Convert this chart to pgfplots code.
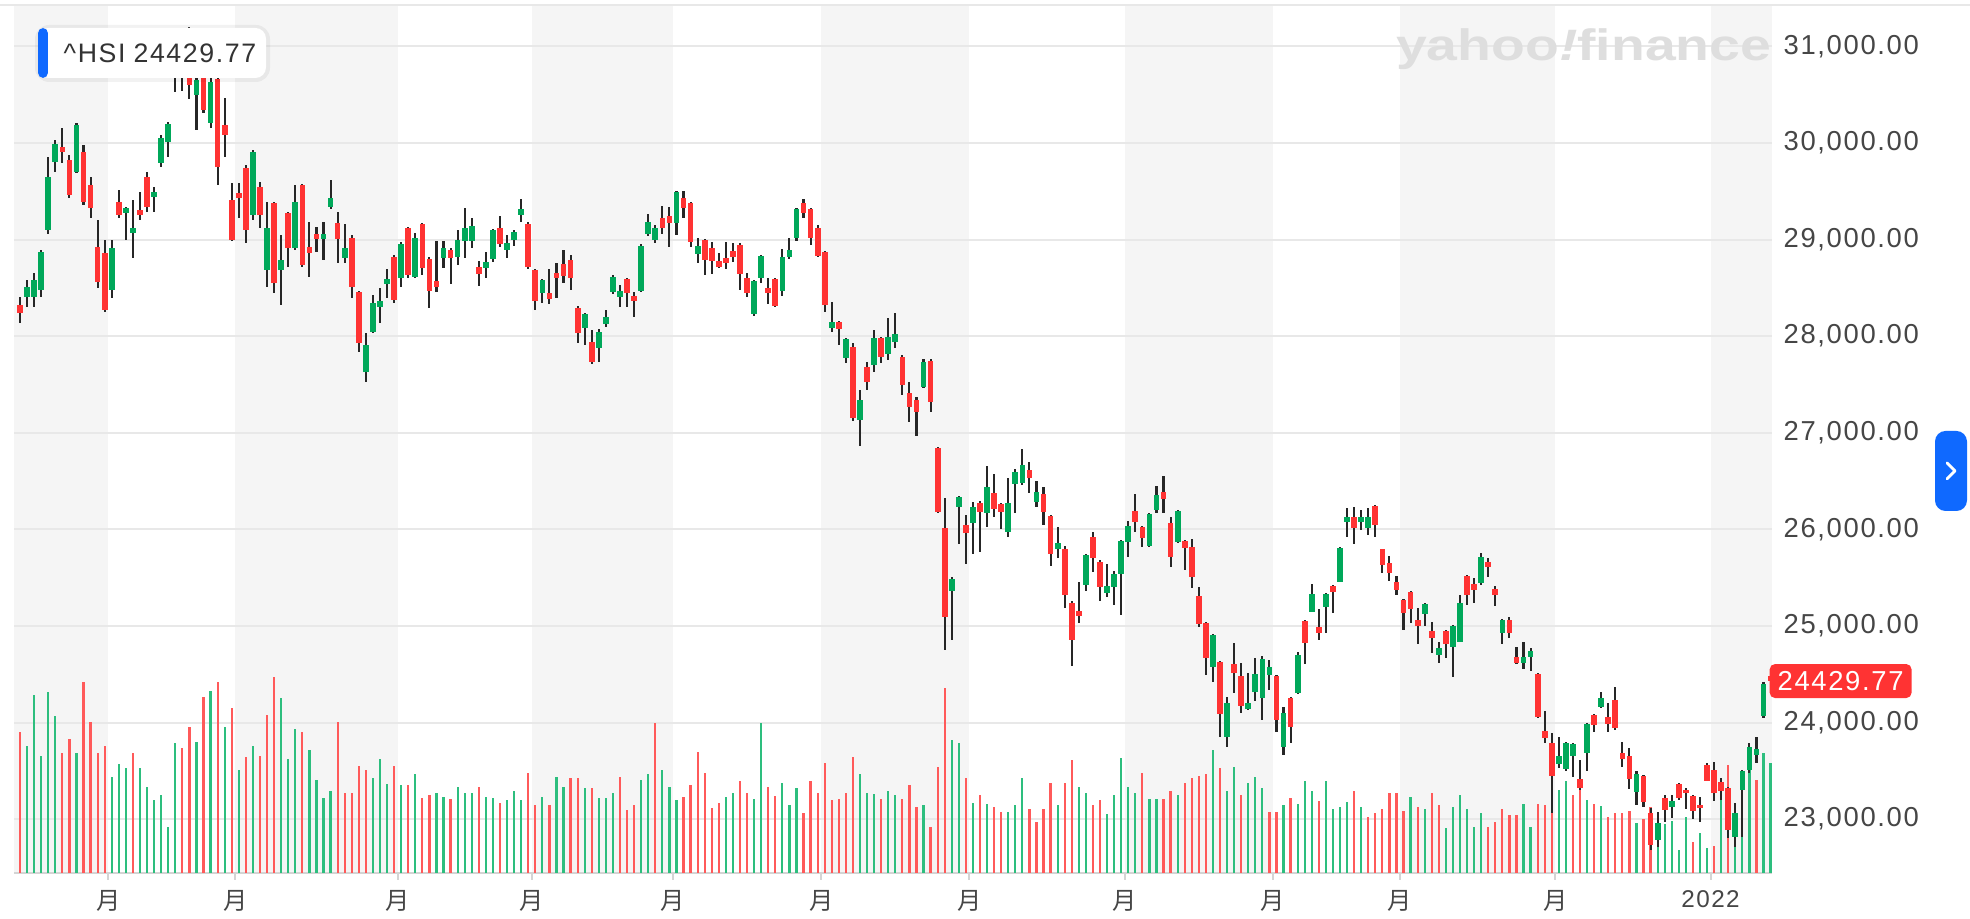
\documentclass[border=0pt]{standalone}
\usepackage{fontspec}
\usepackage{graphicx}
\usepackage{pgfplots}
\usepackage{pgfplotstable}
\pgfplotsset{compat=1.18}
\setmainfont{Liberation Sans}
\newfontfamily\lab{Liberation Sans}[LetterSpace=6]
\newfontfamily\cjk{Noto Sans CJK SC}

\definecolor{cgreen}{HTML}{00A85A}
\definecolor{cred}{HTML}{FF3333}
\definecolor{vgreen}{HTML}{2DBE7E}
\definecolor{vred}{HTML}{FF5A5A}
\definecolor{wick}{HTML}{262626}
\definecolor{band}{HTML}{F5F5F5}
\definecolor{gridc}{HTML}{E8E8E8}
\definecolor{axisc}{HTML}{D4D4D4}
\definecolor{labc}{HTML}{464646}
\definecolor{tipc}{HTML}{333333}
\definecolor{yblue}{HTML}{0F69FF}
\definecolor{logoc}{HTML}{DEDEDE}

\pgfplotsset{
  hsibase/.style={scale only axis, width=17.58cm, height=8.67cm,
    at={(0.14cm,0.46cm)}, anchor=south west, xmin=-0.85, xmax=248.2},
  up/.style={restrict expr to domain={\thisrow{#1}}{0.5:1.5}},
  down/.style={restrict expr to domain={\thisrow{#1}}{-0.5:0.5}},
}

% daily ^HSI, 13 Jan 2021 - 13 Jan 2022 (i = trading day)
% V = volume bar height, D = 1 if close >= open, U = 1 if close >= previous close
\pgfplotstableread{
i O H L C V D U
0 28323 28409 28134 28237 141 0 0
1 28409 28582 28306 28513 127 1 1
2 28409 28650 28306 28582 178 1 1
3 28478 28892 28409 28875 117 1 1
4 29099 29858 29060 29651 181 1 1
5 29807 30031 29703 29990 157 1 1
6 29962 30152 29790 29910 120 0 0
7 29824 29876 29427 29461 134 0 0
8 29703 30210 29686 30186 120 1 1
9 29910 29979 29358 29393 191 0 0
10 29565 29651 29220 29323 151 0 0
11 28927 29203 28495 28564 120 0 0
12 28858 28996 28250 28271 127 0 0
13 28478 28996 28392 28909 96 1 1
14 29393 29513 29220 29255 109 0 1
15 29272 29340 28996 29323 105 1 1
16 29065 29410 28806 29117 120 1 0
17 29306 29496 29203 29254 105 0 1
18 29651 29703 29289 29341 86 0 1
19 29444 29548 29289 29496 73 1 1
20 29790 30083 29755 30048 78 1 1
21 30014 30220 29858 30196 46 1 1
22 30800 31183 30530 31085 130 1 1
23 31050 31120 30540 30700 125 0 0
24 30900 31200 30460 30595 146 0 0
25 30497 30800 30135 30650 131 1 1
26 30750 30800 30307 30342 176 0 0
27 30204 30700 30152 30632 182 1 1
28 30660 30700 29565 29755 191 0 0
29 30186 30462 29858 30083 146 0 1
30 29410 29583 28980 28996 165 0 0
31 29479 29583 29220 29427 103 0 1
32 29738 29772 28961 29099 116 0 0
33 29255 29930 29203 29910 127 1 1
34 29548 29600 29117 29254 117 0 0
35 28685 29393 28513 29117 158 1 0
36 29375 29390 28444 28547 196 0 0
37 28685 29048 28323 28789 175 1 1
38 29272 29290 28720 28910 114 0 1
39 28910 29565 28890 29392 144 1 1
40 29565 29580 28720 28737 141 0 0
41 28927 29185 28616 28858 123 0 1
42 29054 29134 28875 29006 93 0 1
43 29006 29185 28789 29054 75 1 1
44 29341 29617 29320 29427 82 1 1
45 29168 29289 28754 29006 151 0 0
46 28813 29158 28754 28909 80 1 0
47 29013 29047 28392 28513 80 0 0
48 28454 28470 27840 27926 107 0 0
49 27633 28029 27522 27909 103 1 0
50 28047 28426 28030 28340 95 1 1
51 28305 28502 28133 28364 114 1 1
52 28537 28695 28392 28592 89 1 1
53 28823 28840 28340 28374 107 0 0
54 28599 28970 28513 28951 88 1 1
55 29116 29130 28599 28633 88 0 0
56 28616 29065 28599 29013 99 1 1
57 29158 29170 28633 28702 75 0 0
58 28799 28815 28288 28468 78 0 0
59 28571 28985 28461 28513 80 0 1
60 28806 28985 28702 28909 76 1 1
61 28889 28909 28540 28813 74 0 0
62 28823 29099 28737 28996 86 1 1
63 28985 29330 28813 29116 80 1 1
64 28985 29227 28909 29144 80 1 1
65 28713 28778 28523 28640 86 0 0
66 28702 28868 28599 28764 76 1 1
67 28799 29110 28771 29099 75 1 1
68 29123 29247 28927 28951 70 0 0
69 28892 29047 28813 28960 73 1 1
70 28996 29100 28930 29082 82 1 1
71 29254 29417 29178 29317 73 1 1
72 29165 29180 28700 28720 100 0 0
73 28685 28700 28271 28364 68 0 0
74 28443 28590 28340 28581 76 1 1
75 28443 28695 28330 28385 68 0 0
76 28657 28761 28392 28599 96 0 1
77 28744 28892 28547 28626 86 0 1
78 28789 28840 28478 28599 95 0 0
79 28295 28310 27926 28029 95 0 0
80 28088 28240 27909 28226 85 1 1
81 27936 28064 27710 27729 85 0 0
82 27881 28074 27736 28047 75 1 1
83 28123 28271 28099 28202 75 1 1
84 28454 28634 28440 28617 80 1 1
85 28410 28530 28306 28468 96 1 0
86 28592 28600 28306 28450 63 0 0
87 28420 28461 28202 28364 68 0 0
88 28468 28950 28460 28937 93 1 1
89 29055 29262 29041 29186 99 1 1
90 28996 29151 28962 29117 150 1 0
91 29227 29351 29055 29124 103 0 1
92 29248 29341 28927 29169 86 0 1
93 29169 29500 29048 29490 73 1 1
94 29434 29503 29220 29324 76 0 0
95 29376 29390 28927 28979 88 0 0
96 28848 29020 28755 28937 121 1 0
97 28996 29010 28634 28789 100 0 0
98 28910 28979 28641 28780 65 0 0
99 28779 28858 28703 28720 70 0 0
100 28806 28979 28696 28755 76 0 1
101 28882 28962 28770 28824 80 0 1
102 28944 28960 28479 28641 92 0 0
103 28606 28651 28410 28444 80 0 0
104 28227 28580 28210 28572 74 1 1
105 28599 28841 28548 28834 150 1 1
106 28503 28606 28330 28444 86 0 0
107 28592 28600 28306 28316 77 0 0
108 28468 28903 28420 28824 90 1 1
109 28824 29013 28799 28893 68 1 1
110 29013 29325 28986 29317 85 1 1
111 29376 29421 29220 29272 60 0 0
112 29317 29330 28944 29013 92 0 0
113 29117 29151 28820 28834 80 0 0
114 28868 28880 28247 28323 110 0 0
115 28089 28358 28047 28151 73 1 0
116 28151 28160 27909 28075 74 0 0
117 27771 27980 27719 27971 80 1 0
118 27892 27926 27122 27157 116 0 0
119 27133 27443 26867 27340 99 1 1
120 27685 27737 27443 27530 80 0 1
121 27702 28064 27633 27978 79 1 1
122 27978 27990 27719 27788 74 0 0
123 27813 28185 27754 27995 82 1 1
124 27944 28237 27875 28020 78 1 1
125 27788 27800 27391 27495 74 0 0
126 27408 27529 27115 27264 88 0 0
127 27339 27374 26967 27219 66 0 0
128 27471 27760 27460 27736 68 1 1
129 27747 27760 27219 27322 46 0 0
130 26839 26856 26170 26183 106 0 0
131 26011 26321 24751 25096 185 0 0
132 25366 25511 24855 25483 133 1 1
133 26228 26345 25849 26332 130 1 1
134 26045 26149 25642 25959 95 0 0
135 26063 26287 25745 26235 70 1 1
136 26277 26290 25769 26183 78 0 0
137 26166 26656 26028 26435 69 1 1
138 26380 26573 26132 26208 66 0 0
139 26263 26275 25999 26183 61 0 0
140 25976 26528 25918 26277 61 1 1
141 26470 26622 26166 26597 68 1 1
142 26477 26829 26460 26666 95 1 1
143 26615 26701 26380 26528 64 0 0
144 26287 26504 26228 26390 51 1 0
145 26366 26442 26046 26183 64 0 0
146 26139 26150 25621 25745 90 0 0
147 25794 26028 25700 25856 68 1 1
148 25794 25828 25183 25321 90 0 0
149 25241 25255 24586 24855 113 0 0
150 25159 25459 25028 25104 86 0 1
151 25424 25750 25366 25735 80 1 1
152 25925 25976 25562 25700 68 0 0
153 25666 25680 25262 25400 73 0 0
154 25345 25642 25303 25414 59 1 1
155 25400 25573 25217 25538 78 1 1
156 25538 25895 25114 25883 115 1 1
157 25873 26090 25711 26035 86 1 1
158 26194 26366 25976 26080 80 0 1
159 26028 26040 25814 25907 100 0 0
160 25828 26173 25815 26159 74 1 1
161 26201 26449 26166 26356 74 1 1
162 26390 26553 26166 26311 74 0 0
163 26070 26132 25614 25718 82 0 0
164 25873 26200 25856 26194 78 1 1
165 25883 25895 25579 25804 90 0 0
166 25821 25897 25390 25510 95 0 0
167 25310 25407 24993 25020 97 0 0
168 25034 25045 24492 24665 99 0 0
169 24579 24920 24423 24906 123 1 1
170 24630 24640 23854 24089 105 0 0
171 23854 24261 23750 24206 82 1 1
172 24606 24820 24309 24510 106 0 1
173 24482 24613 24095 24171 78 0 0
174 24137 24510 24125 24206 90 1 1
175 24320 24665 24227 24503 96 1 1
176 24251 24689 24027 24655 85 1 1
177 24492 24648 24337 24572 61 1 0
178 24482 24495 23906 24027 61 0 0
179 23750 24165 23664 24103 68 1 1
180 24251 24260 23792 23958 75 0 0
181 24310 24734 24300 24700 69 1 1
182 25055 25065 24606 24827 92 0 1
183 25148 25434 25140 25331 82 1 1
184 24993 25172 24855 24931 72 0 0
185 25193 25340 24924 25331 92 1 1
186 25414 25425 25131 25355 64 0 1
187 25459 25815 25450 25804 66 1 1
188 26080 26218 25925 26131 71 1 1
189 26131 26235 25849 26011 82 0 0
190 26080 26200 25993 26131 66 1 1
191 26011 26218 25942 26124 56 1 0
192 26242 26250 25918 26045 60 0 0
193 25793 25800 25552 25631 64 0 0
194 25648 25724 25469 25545 80 0 0
195 25459 25517 25320 25372 80 0 0
196 25269 25280 24958 25138 62 0 0
197 25355 25365 25027 25172 76 0 1
198 25062 25183 24813 25000 66 0 0
199 25124 25235 24999 25227 64 1 1
200 24951 25045 24724 24872 80 0 0
201 24700 24837 24620 24769 68 1 0
202 24951 24960 24665 24813 45 0 1
203 24786 25010 24468 25000 66 1 1
204 24838 25320 24830 25241 78 1 1
205 25517 25528 25217 25320 64 0 1
206 25434 25493 25234 25372 46 0 1
207 25441 25760 25420 25713 60 1 1
208 25666 25700 25510 25614 46 0 0
209 25379 25414 25207 25321 51 0 0
210 24931 25070 24813 25062 64 1 0
211 25062 25089 24872 24931 58 0 0
212 24675 24779 24606 24620 58 0 0
213 24620 24838 24551 24682 69 1 1
214 24682 24769 24537 24744 46 1 1
215 24503 24510 24050 24061 69 0 0
216 23916 24123 23785 23837 68 0 0
217 23792 23889 23060 23447 85 0 0
218 23571 23854 23526 23654 83 1 1
219 23516 23800 23502 23792 92 1 1
220 23654 23790 23440 23778 78 1 0
221 23412 23613 23300 23319 86 0 0
222 23688 23995 23502 23985 73 1 1
223 24078 24085 23906 23975 69 0 0
224 24158 24320 24150 24251 67 1 1
225 24061 24206 23906 23985 56 0 0
226 24234 24372 23923 23940 60 0 0
227 23689 23802 23544 23620 60 0 0
228 23654 23733 23309 23412 62 0 0
229 23285 23502 23147 23468 50 1 1
230 23447 23455 23130 23181 54 0 0
231 23067 23112 22681 22733 66 0 0
232 22785 23078 22715 22964 44 1 1
233 23216 23250 22974 23095 49 0 1
234 23130 23250 23009 23191 52 1 1
235 23364 23378 23199 23223 23 0 1
236 23300 23320 23102 23280 56 0 1
237 23240 23250 22998 23088 31 0 0
238 23150 23226 22974 23112 40 0 1
239 23561 23580 23390 23399 25 0 1
240 23509 23596 23192 23268 27 0 0
241 23388 23423 23199 23289 80 0 1
242 23319 23330 22802 22888 108 0 0
243 22819 23164 22709 23060 70 1 1
244 23302 23510 22819 23502 103 1 1
245 23509 23785 23475 23744 103 1 1
246 23664 23847 23585 23723 93 1 0
247 24068 24420 24050 24399 120 1 1
248 24480 24530 24330 24430 110 0 1
}\hsi

\begin{document}
\begin{tikzpicture}
\path[use as bounding box, fill=white] (0,0) rectangle (19.70cm,9.19cm);

% month bands, grid and scales
\begin{axis}[hsibase, ymin=22443, ymax=31418, axis on top,
  axis x line*=bottom, axis y line*=right,
  y axis line style={draw=none},
  x axis line style={draw=axisc, line width=0.6pt},
  tick align=outside, major tick length=0.07cm,
  xtick={12.5,30.5,53.5,72.5,92.5,113.5,134.5,156.5,177.5,195.5,217.5,239.5},
  xticklabels={{\cjk 月},{\cjk 月},{\cjk 月},{\cjk 月},{\cjk 月},{\cjk 月},
    {\cjk 月},{\cjk 月},{\cjk 月},{\cjk 月},{\cjk 月},{\lab 2022}},
  xtick style={draw=axisc, line width=0.6pt},
  xticklabel style={text=labc, font=\fontsize{6.9}{7}\selectfont,
    inner sep=0pt, anchor=north, yshift=-0.1cm},
  ytick={23000,24000,...,31000}, scaled y ticks=false,
  ytick style={draw=none},
  yticklabel style={text=labc, font=\lab\fontsize{7.8}{8}\selectfont,
    anchor=west, inner sep=0pt, xshift=0.04cm,
    /pgf/number format/.cd, fixed, fixed zerofill, precision=2,
    1000 sep={,}, assume math mode=true},
  ymajorgrids, major grid style={draw=gridc, line width=0.55pt},
]
  \fill[band] (axis cs:-0.85,22443) rectangle (axis cs:12.5,31418);
  \fill[band] (axis cs:30.5,22443) rectangle (axis cs:53.5,31418);
  \fill[band] (axis cs:72.5,22443) rectangle (axis cs:92.5,31418);
  \fill[band] (axis cs:113.5,22443) rectangle (axis cs:134.5,31418);
  \fill[band] (axis cs:156.5,22443) rectangle (axis cs:177.5,31418);
  \fill[band] (axis cs:195.5,22443) rectangle (axis cs:217.5,31418);
  \fill[band] (axis cs:239.5,22443) rectangle (axis cs:248.2,31418);
\end{axis}

% volume
\begin{axis}[hsibase, ymin=0, ymax=867, hide axis]
  \addplot[ycomb, draw=vgreen, line width=0.64pt, mark=none, up=U]
    table[x=i, y=V] {\hsi};
  \addplot[ycomb, draw=vred, line width=0.64pt, mark=none, down=U]
    table[x=i, y=V] {\hsi};
\end{axis}

% candles
\begin{axis}[hsibase, ymin=22443, ymax=31418, hide axis, clip=false]
  \addplot[draw=none, mark=none, error bars/.cd, y dir=both, y explicit,
    error mark=none, error bar style={draw=wick, line width=0.6pt}]
    table[x=i, y expr={(\thisrow{H}+\thisrow{L})/2},
      y error expr={(\thisrow{H}-\thisrow{L})/2}] {\hsi};
  \addplot[draw=none, mark=none, up=D,
    error bars/.cd, y dir=both, y explicit,
    error mark=none, error bar style={draw=cgreen, line width=1.62pt}]
    table[x=i, y expr={(\thisrow{O}+\thisrow{C})/2},
      y error expr={max(abs(\thisrow{C}-\thisrow{O})/2,14)}] {\hsi};
  \addplot[draw=none, mark=none, down=D,
    error bars/.cd, y dir=both, y explicit,
    error mark=none, error bar style={draw=cred, line width=1.62pt}]
    table[x=i, y expr={(\thisrow{O}+\thisrow{C})/2},
      y error expr={max(abs(\thisrow{C}-\thisrow{O})/2,14)}] {\hsi};
  % last price tag
  \node[fill=cred, text=white, rounded corners=1.5pt, anchor=west,
    inner xsep=0.08cm, inner ysep=0pt, minimum height=0.34cm, xshift=-0.03cm,
    font=\lab\fontsize{7.8}{8}\selectfont] at (axis cs:248.2,24429.77) {24429.77};
\end{axis}

% top rule
\draw[draw=gridc, line width=0.7pt] (0,9.14cm) -- (19.70cm,9.14cm);

% watermark
\node[text=logoc, inner sep=0pt, anchor=east] at (17.72cm,8.70cm)
  {\scalebox{1.26}[1]{\fontsize{12.5}{12.5}\selectfont\bfseries yahoo{\itshape !}finance}};

% quote box
\fill[black, opacity=0.05, rounded corners=4pt] (0.35cm,8.37cm) rectangle (2.70cm,8.94cm);
\fill[white, rounded corners=3pt] (0.38cm,8.41cm) rectangle (2.66cm,8.91cm);
\fill[yblue, rounded corners=1.5pt] (0.38cm,8.41cm) rectangle (0.48cm,8.91cm);
\node[anchor=west, inner sep=0pt, text=tipc, font=\lab\fontsize{7.6}{8}\selectfont]
  at (0.63cm,8.66cm) {\textasciicircum HSI\hspace{0.3em}24429.77};

% side tab
\fill[yblue, rounded corners=3pt] (19.35cm,4.08cm) rectangle (19.67cm,4.88cm);
\draw[white, line width=0.8pt, line cap=round, line join=round]
  (19.47cm,4.56cm) -- (19.55cm,4.48cm) -- (19.47cm,4.40cm);
\end{tikzpicture}
\end{document}
